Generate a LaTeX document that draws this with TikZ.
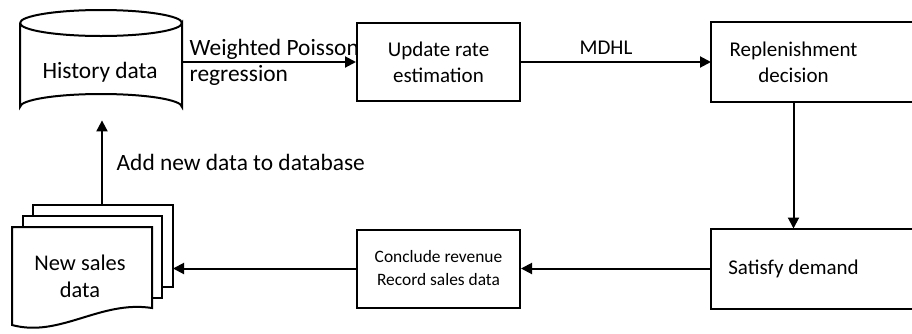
\documentclass[tikz,border=0pt]{standalone}
\usepackage{fontspec}
\setmainfont{Carlito}
\usetikzlibrary{calc, positioning}
\usetikzlibrary{arrows.meta}

\tikzset{
  flowbox/.style={draw, line width=1pt, align=center, minimum width=81.5pt, minimum height=39pt, inner sep=0pt},
  flowarrow/.style={line width=1pt, -{Triangle[length=5.5pt, width=5.5pt]}},
  shapeline/.style={line width=1pt, line join=miter},
  biglabel/.style={font=\fontsize{11.7}{13}\selectfont}
}

\begin{document}
\begin{tikzpicture}[x=0.5pt,y=-0.5pt, font=\fontsize{10.5}{13}\selectfont]
\useasboundingbox (0,0) rectangle (912,333);
\clip (0,0) rectangle (912,333);

% boxes
\node[flowbox] (upd) at (438.5,62) {Update rate\\estimation};
\node[flowbox, draw=none] (rep) at (793.5,62) {Replenishment\\decision};
\node[flowbox, draw=none] (sat) at (793.5,268.5) {Satisfy demand};
\node[flowbox, font=\fontsize{8.7}{11.5}\selectfont] (conc) at (438.5,268.5) {Conclude revenue\\Record sales data};

% right boxes run off the picture
\draw[shapeline] (rep.north west) rectangle ([xshift=30pt]rep.south east);
\draw[shapeline] (sat.north west) rectangle ([xshift=30pt]sat.south east);

% database
\draw[shapeline] (20,23) -- (20,107) arc[start angle=180, end angle=360, x radius=81, y radius=13]
  -- (182,23) arc[start angle=0, end angle=180, x radius=81, y radius=13];
\draw[shapeline] (20,23) arc[start angle=180, end angle=360, x radius=81, y radius=13];
\node[biglabel, minimum width=81pt, minimum height=35pt, inner sep=0pt] (hist) at (100,72) {History data};

% document stack
\draw[shapeline, fill=white] (33,205) -- (173,205) -- (173,287) -- (162,287) -- (162,216) -- (33,216) -- cycle;
\draw[shapeline, fill=white] (23,216) -- (162,216) -- (162,298) -- (152,298) -- (152,227) -- (23,227) -- cycle;
\draw[shapeline, fill=white] (12,227) -- (152,227) -- (152,308)
  .. controls (100,300) and (60,338) .. (12,325) -- cycle;
\node[minimum width=70pt, inner sep=0pt, align=center, font=\fontsize{11.2}{13.5}\selectfont] (sales) at (80,276) {New sales\\data};
\coordinate (pageR) at (173,268.5);
\coordinate (pageT) at (102,205);

% connectors
\draw[flowarrow] (upd.west -| 182,0) -- (upd.west)
  node[pos=0, anchor=west, align=left, biglabel] {Weighted Poisson\\regression};
\draw[flowarrow] (upd.east) -- (rep.west) node[midway, above, xshift=-5pt] {MDHL};
\draw[flowarrow] (rep.south) -- (sat.north);
\draw[flowarrow] (sat.west) -- (conc.east);
\draw[flowarrow] (conc.west) -- (pageR);
\draw[flowarrow] (pageT) -- ([yshift=-6.5pt]hist.south -| pageT)
  node[midway, right=3.5pt, biglabel] {Add new data to database};
\end{tikzpicture}
\end{document}
